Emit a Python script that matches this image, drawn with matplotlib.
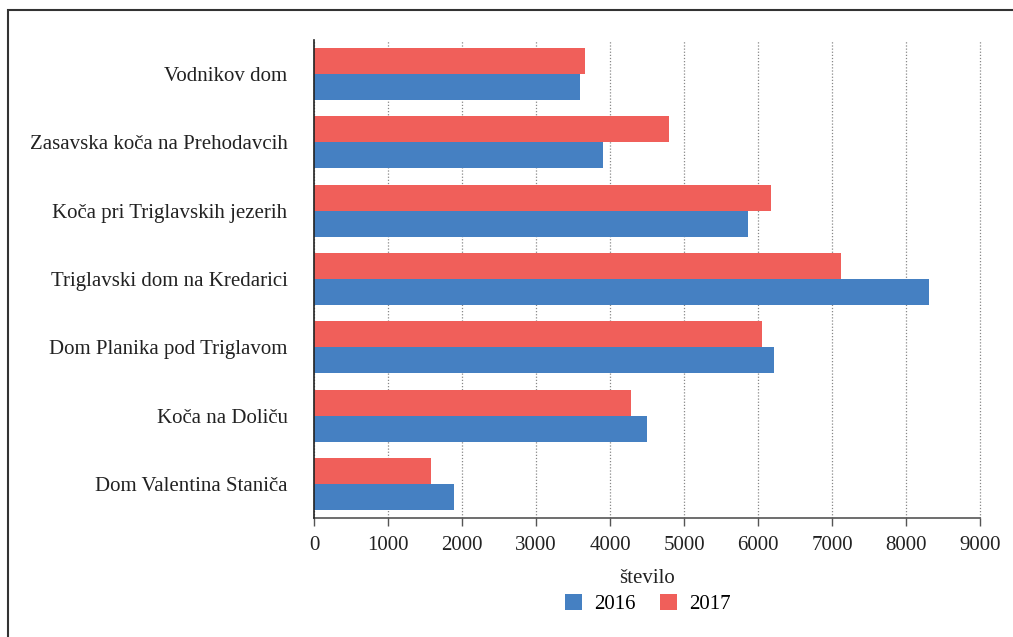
import matplotlib
matplotlib.use("Agg")
import matplotlib.pyplot as plt
import numpy as np
from matplotlib.patches import Rectangle

categories = ["Vodnikov dom", "Zasavska koča na Prehodavcih", "Koča pri Triglavskih jezerih",
              "Triglavski dom na Kredarici", "Dom Planika pod Triglavom", "Koča na Doliču",
              "Dom Valentina Staniča"]
v2016 = [3600, 3900, 5860, 8310, 6210, 4500, 1890]
v2017 = [3660, 4800, 6170, 7120, 6060, 4290, 1580]
xticks = [0, 1000, 2000, 3000, 4000, 5000, 6000, 7000, 8000, 9000]

blue = "#4580C2"
red = "#F05F5A"

plt.rcParams['font.family'] = ['Liberation Serif', 'DejaVu Serif']
fig = plt.figure(figsize=(10.13, 6.37), dpi=100)
ax = fig.add_axes([314/1013, 1-518/637, 666/1013, 478/637])

y = np.arange(len(categories))
h = 0.38
ax.barh(y - h/2, v2017, height=h, color=red, label="2017", zorder=3)
ax.barh(y + h/2, v2016, height=h, color=blue, label="2016", zorder=3)
ax.set_ylim(len(categories) - 0.5, -0.5)
ax.set_yticks(y)
ax.set_yticklabels(categories, fontsize=15, color="#222222")
ax.set_xlim(0, 9000)
ax.set_xticks(xticks)
ax.set_xticklabels([str(t) for t in xticks], fontsize=15, color="#222222")
ax.tick_params(axis='y', length=0, pad=19)
ax.tick_params(axis='x', length=6, width=1, color="#555555", pad=7)
ax.grid(axis='x', linestyle=(0, (1, 1.5)), color="#888888", linewidth=0.9, zorder=0)
for gl in ax.get_xgridlines():
    gl.set_clip_on(False)
for s in ["top", "right"]:
    ax.spines[s].set_visible(False)
ax.spines["left"].set_color("#222222")
ax.spines["left"].set_linewidth(1.2)
ax.spines["left"].set_zorder(4)
ax.spines["bottom"].set_color("#555555")
ax.spines["bottom"].set_linewidth(1.2)
ax.set_xlabel("število", fontsize=15, color="#222222", labelpad=10)

handles, labels = ax.get_legend_handles_labels()
leg = fig.legend(handles[::-1], labels[::-1], loc="center", bbox_to_anchor=(648/1013, 1-604/637),
                 ncol=2, frameon=False, fontsize=15, handlelength=0.8, handleheight=0.8,
                 columnspacing=1.15, handletextpad=0.6)

fig.add_artist(Rectangle((8/1013, -0.05), 1.1, 1-10/637 + 0.05, transform=fig.transFigure,
                         fill=False, edgecolor="#333333", linewidth=1.5))

fig.savefig("out.png", dpi=100)
